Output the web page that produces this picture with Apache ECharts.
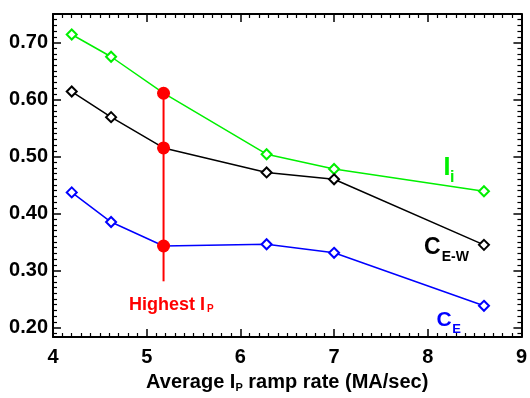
<!DOCTYPE html>
<html><head><meta charset="utf-8">
<script src="https://cdn.jsdelivr.net/npm/echarts@6/dist/echarts.min.js"></script>
<style>html,body{margin:0;padding:0;background:#fff}#c{width:530px;height:398px}</style>
</head><body><div id="c"></div>
<script>
// ---- data ----
const rampRate = [4.2, 4.62, 5.18, 6.28, 7.0, 8.6];
const li  = [0.714, 0.675, 0.611, 0.504, 0.478, 0.439];
const cEW = [0.614, 0.569, 0.515, 0.472, 0.460, 0.345];
const cE  = [0.437, 0.385, 0.343, 0.346, 0.331, 0.238];
const highestX = 5.18;
const highestPoints = [0.611, 0.515, 0.343];
const highestBarBottom = 0.281;
const yMajorTicks = [0.2, 0.3, 0.4, 0.5, 0.6, 0.7];
const Y_MIN = 0.1833, Y_MAX = 0.75;
const X_MIN = 4, X_MAX = 9;

const yMinorTicks = [];
for (let k = 19; k <= 74; k++) { if (k % 10 !== 0) yMinorTicks.push(k / 100); }

const FONT = '"Liberation Sans", Arial, Helvetica, sans-serif';
const AX = {color: '#000', width: 2};
const GREEN = '#00f000';

function xAx(pos, showLabel) {
  return {
    type: 'value', position: pos, min: X_MIN, max: X_MAX, interval: 1,
    splitLine: {show: false},
    axisLine: {show: true, onZero: false, lineStyle: AX},
    axisTick: {show: true, inside: true, length: 8, lineStyle: {color: '#000', width: 1.5}},
    minorTick: {show: true, splitNumber: 10, length: 4, lineStyle: {color: '#000', width: 1.2}},
    axisLabel: {show: showLabel, margin: 10, color: '#000', fontSize: 20, fontWeight: 'bold', fontFamily: FONT},
    name: showLabel ? '{n|Average I}{s|P}{n| ramp rate (MA/sec)}' : '',
    nameLocation: 'middle', nameGap: 34,
    nameTextStyle: {
      rich: {
        n: {fontSize: 20, fontWeight: 'bold', fontFamily: FONT, color: '#000', lineHeight: 22},
        s: {fontSize: 11, fontWeight: 'bold', fontFamily: FONT, color: '#000', lineHeight: 6, verticalAlign: 'bottom'}
      }
    }
  };
}
function yAx(pos, vals, len, showLabel, showLine) {
  return {
    type: 'value', position: pos, min: Y_MIN, max: Y_MAX,
    splitLine: {show: false},
    axisLine: {show: showLine, onZero: false, lineStyle: AX},
    axisTick: {show: true, inside: true, length: len, customValues: vals, lineStyle: {color: '#000', width: len > 5 ? 1.5 : 1.2}},
    axisLabel: {show: showLabel, customValues: vals, margin: 5, color: '#000', fontSize: 20, fontWeight: 'bold', fontFamily: FONT,
      formatter: v => v.toFixed(2)}
  };
}

function pairs(ys) { return rampRate.map((x, i) => [x, ys[i]]); }

function lineSeries(ys, color) {
  return {
    type: 'line', data: pairs(ys), symbol: 'emptyDiamond', symbolSize: 10,
    lineStyle: {color: color, width: 1.5},
    itemStyle: {color: color, borderWidth: 1.5},
    z: 2, animation: false, silent: true
  };
}

function txt(x, y, text, size, color) {
  return {type: 'text', x: x, y: y, z: 10, silent: true,
    style: {text: text, fill: color, font: 'bold ' + size + 'px ' + FONT, verticalAlign: 'middle', align: 'left'}};
}

const chart = echarts.init(document.getElementById('c'), null, {renderer: 'canvas'});
chart.setOption({
  animation: false,
  backgroundColor: '#fff',
  grid: {left: 53, right: 7, top: 14, bottom: 54},
  xAxis: [xAx('bottom', true), xAx('top', false)],
  yAxis: [
    yAx('left', yMajorTicks, 8, true, true),
    yAx('right', yMajorTicks, 8, false, true),
    yAx('left', yMinorTicks, 4, false, false),
    yAx('right', yMinorTicks, 4, false, false)
  ],
  series: [
    lineSeries(li, GREEN),
    lineSeries(cEW, '#000000'),
    lineSeries(cE, '#0000ff'),
    {
      type: 'line', data: [[highestX, highestPoints[0]], [highestX, highestBarBottom]],
      symbol: 'none', lineStyle: {color: '#ff0000', width: 2}, z: 3, silent: true
    },
    {
      type: 'scatter', data: highestPoints.map(v => [highestX, v]),
      symbol: 'circle', symbolSize: 13, itemStyle: {color: '#ff0000', opacity: 1}, z: 5, silent: true
    }
  ],
  graphic: [
    txt(129, 304.8, 'Highest I', 18, '#ff0000'),
    txt(207, 308.8, 'P', 10, '#ff0000'),
    txt(443.5, 168, 'I', 25, GREEN),
    txt(450, 177.2, 'i', 16, GREEN),
    txt(424, 248, 'C', 23, '#000000'),
    txt(441.7, 256.8, 'E-W', 14, '#000000'),
    txt(436.5, 320.2, 'C', 21, '#0000ff'),
    txt(452.3, 329.8, 'E', 13, '#0000ff')
  ]
});
</script></body></html>
